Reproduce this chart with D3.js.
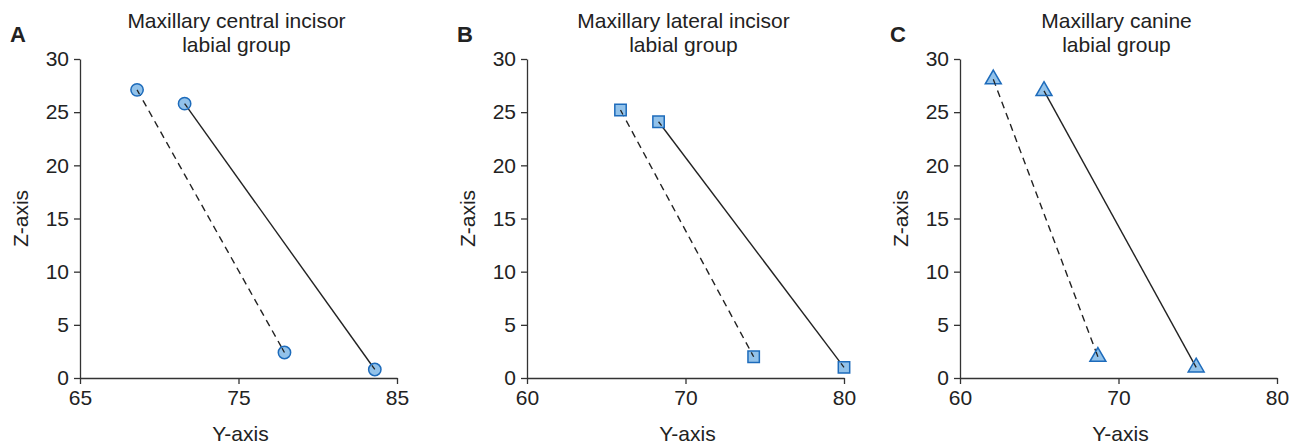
<!DOCTYPE html>
<html>
<head>
<meta charset="utf-8">
<script src="https://cdn.jsdelivr.net/npm/d3@7"></script>
<style>
  body { margin: 0; background: #fff; }
  text { font-family: "Liberation Sans", Arial, sans-serif; fill: #222; }
</style>
</head>
<body>
<svg id="chart" width="1300" height="447"></svg>
<script>
// panel letters, titles, x domains
var panelLetters = ["A", "B", "C"];
var panelTitles = [
  ["Maxillary central incisor", "labial group"],
  ["Maxillary lateral incisor", "labial group"],
  ["Maxillary canine", "labial group"]
];
var xDomains = [[65, 85], [60, 80], [60, 80]];
var xTicks = [[65, 75, 85], [60, 70, 80], [60, 70, 80]];
var zTicks = [0, 5, 10, 15, 20, 25, 30];
var markerShapes = ["circle", "square", "triangle"];

// each line is [start, end] of [Y, Z]
var dashedLines = [
  [[68.6, 27.1], [77.9, 2.4]],
  [[65.9, 25.2], [74.3, 2.0]],
  [[62.1, 28.1], [68.7, 2.0]]
];
var solidLines = [
  [[71.6, 25.8], [83.6, 0.8]],
  [[68.3, 24.1], [80.0, 1.0]],
  [[65.3, 27.0], [74.9, 1.0]]
];

var svg = d3.select("#chart");
var panelLeft = [80, 527, 960];
var plotW = 317, plotTop = 59, plotBottom = 378;

var symbolType = {
  circle: d3.symbolCircle,
  square: d3.symbolSquare,
  triangle: d3.symbolTriangle
};
var symbolSize = { circle: 120, square: 130, triangle: 110 };

panelLetters.forEach(function(letter, i){
  var left = panelLeft[i];
  var g = svg.append("g");
  var x = d3.scaleLinear().domain(xDomains[i]).range([left, left + plotW]);
  var y = d3.scaleLinear().domain([0, 30]).range([plotBottom, plotTop]);

  g.append("g")
    .attr("transform", "translate(0," + plotBottom + ")")
    .call(d3.axisBottom(x).tickValues(xTicks[i]).tickSize(6).tickSizeOuter(0).tickPadding(6))
    .call(function(a){
      a.selectAll("text").style("font-size", "21px").attr("fill", "#222");
      a.selectAll("path,line").attr("stroke", "#333").attr("stroke-width", 1.3);
    });
  g.append("g")
    .attr("transform", "translate(" + left + ",0)")
    .call(d3.axisLeft(y).tickValues(zTicks).tickSize(6).tickSizeOuter(0).tickPadding(5))
    .call(function(a){
      a.selectAll("text").style("font-size", "21px").attr("fill", "#222");
      a.selectAll("path,line").attr("stroke", "#333").attr("stroke-width", 1.3);
    });

  // titles
  g.append("text")
    .attr("x", left + plotW / 2 - 2).attr("y", 28)
    .attr("text-anchor", "middle").style("font-size", "21px")
    .text(panelTitles[i][0]);
  g.append("text")
    .attr("x", left + plotW / 2 - 2).attr("y", 52)
    .attr("text-anchor", "middle").style("font-size", "21px")
    .text(panelTitles[i][1]);

  g.append("text")
    .attr("x", left - 70).attr("y", 42)
    .style("font-size", "22px").style("font-weight", "bold")
    .text(letter);

  g.append("text")
    .attr("transform", "translate(" + (left - 52) + "," + ((plotTop + plotBottom) / 2) + ") rotate(-90)")
    .attr("text-anchor", "middle").style("font-size", "21px")
    .text("Z-axis");
  g.append("text")
    .attr("x", left + plotW / 2 + 2).attr("y", 441)
    .attr("text-anchor", "middle").style("font-size", "21px")
    .text("Y-axis");

  var line = d3.line().x(function(d){return x(d[0]);}).y(function(d){return y(d[1]);});
  g.append("path").datum(dashedLines[i]).attr("d", line)
    .attr("fill", "none").attr("stroke", "#222").attr("stroke-width", 1.4)
    .attr("stroke-dasharray", "7,5");
  g.append("path").datum(solidLines[i]).attr("d", line)
    .attr("fill", "none").attr("stroke", "#222").attr("stroke-width", 1.4);

  var shape = markerShapes[i];
  var pts = dashedLines[i].concat(solidLines[i]);
  g.selectAll("path.marker").data(pts).enter()
    .append("path")
    .attr("class", "marker")
    .attr("d", d3.symbol().type(symbolType[shape]).size(symbolSize[shape]))
    .attr("transform", function(d){ return "translate(" + x(d[0]) + "," + y(d[1]) + ")"; })
    .attr("fill", "#92c2ea")
    .attr("stroke", "#1d6bbb")
    .attr("stroke-width", 1.5);

  // the line ends sit over the marker centres
  g.selectAll("path.tip").data(pts).enter()
    .append("path")
    .attr("d", function(d, k){
      var pair = k < 2 ? dashedLines[i] : solidLines[i];
      var other = pair[k % 2 === 0 ? 1 : 0];
      var dx = x(other[0]) - x(d[0]), dy = y(other[1]) - y(d[1]);
      var len = Math.sqrt(dx*dx + dy*dy);
      return "M" + x(d[0]) + "," + y(d[1]) + "l" + (dx/len*5) + "," + (dy/len*5);
    })
    .attr("stroke", "#222").attr("stroke-width", 1.3);
});
</script>
</body>
</html>
